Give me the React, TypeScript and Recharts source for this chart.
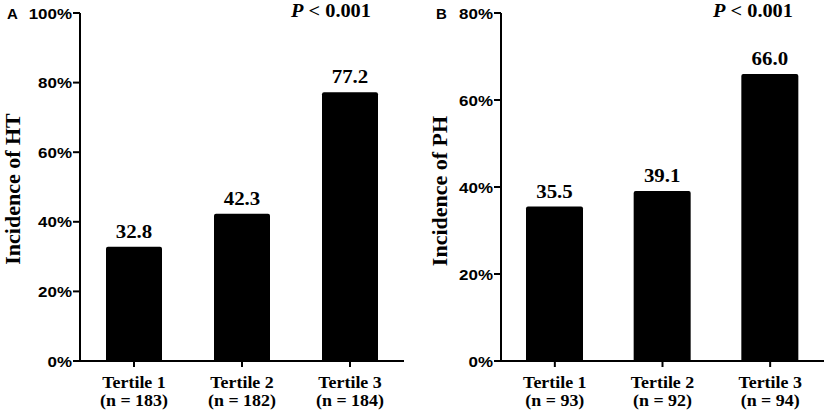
import React from "react";
import { BarChart, Bar, XAxis, YAxis, LabelList, Label } from "recharts";

const categories = ["Tertile 1", "Tertile 2", "Tertile 3"];

const htCounts = ["183", "182", "184"];
const htValues = [32.8, 42.3, 77.2];
const htTicks = [0, 20, 40, 60, 80, 100];

const phCounts = ["93", "92", "94"];
const phValues = [35.5, 39.1, 66.0];
const phTicks = [0, 20, 40, 60, 80];

const serifStyle = { fontFamily: "'Liberation Serif', 'Times New Roman', serif", fontWeight: 700 };
const sansStyle = { fontFamily: "'Liberation Sans', Arial, sans-serif", fontWeight: 700 };

const makeRows = (values: number[], counts: string[]) =>
  categories.map((name, i) => ({ name, value: values[i], n: counts[i] }));

const YTick = (props: any) => {
  const { x, y, payload } = props;
  return (
    <text
      transform={`translate(${x},${y + 5.5}) scale(1.13,1)`}
      textAnchor="end"
      style={sansStyle}
      fontSize={15}
      fill="#000"
    >
      {payload.value}%
    </text>
  );
};

const makeXTick = (counts: string[]) => (props: any) => {
  const { x, y, payload, index } = props;
  return (
    <g transform={`translate(${x},${y})`}>
      <text
        transform="translate(0,19) scale(1.12,1)"
        textAnchor="middle"
        style={serifStyle}
        fontSize={16}
        fill="#000"
      >
        {payload.value}
      </text>
      <text
        transform="translate(0,37) scale(1.12,1)"
        textAnchor="middle"
        style={serifStyle}
        fontSize={16}
        fill="#000"
      >
        (n = {counts[index]})
      </text>
    </g>
  );
};

const ValueLabel = (props: any) => {
  const { x, y, width, value } = props;
  return (
    <text
      transform={`translate(${x + width / 2},${y - 9}) scale(1.1,1)`}
      textAnchor="middle"
      style={serifStyle}
      fontSize={19}
      fill="#000"
    >
      {Number(value).toFixed(1)}
    </text>
  );
};

interface PanelProps {
  values: number[];
  counts: string[];
  ticks: number[];
  yTitle: string;
  width: number;
  axisWidth: number;
  rightMargin: number;
  barSize: number;
  titleX: number;
  titleY: number;
}

const Panel = (p: PanelProps) => {
  const rows = makeRows(p.values, p.counts);
  const XTick = makeXTick(p.counts);
  return (
    <BarChart
      width={p.width}
      height={414}
      data={rows}
      margin={{ top: 13, right: p.rightMargin, left: 0, bottom: 0 }}
    >
      <XAxis
        dataKey="name"
        height={53}
        axisLine={{ stroke: "#000", strokeWidth: 2 }}
        tickLine={{ stroke: "#000", strokeWidth: 2 }}
        tickSize={6}
        tickMargin={2}
        tick={<XTick />}
        interval={0}
      />
      <YAxis
        width={p.axisWidth}
        domain={[0, p.ticks[p.ticks.length - 1]]}
        ticks={p.ticks}
        axisLine={{ stroke: "#000", strokeWidth: 2 }}
        tickLine={{ stroke: "#000", strokeWidth: 2 }}
        tickSize={7}
        tickMargin={1}
        tick={<YTick />}
        interval={0}
      >
        <Label
          content={() => (
            <text
              transform={`translate(${p.titleX},${p.titleY}) rotate(-90)`}
              textAnchor="middle"
              style={serifStyle}
              fontSize={22}
              fill="#000"
            >
              {p.yTitle}
            </text>
          )}
        />
      </YAxis>
      <Bar
        dataKey="value"
        fill="#000"
        barSize={p.barSize}
        radius={[2, 2, 0, 0]}
        isAnimationActive={false}
      >
        <LabelList dataKey="value" content={<ValueLabel />} />
      </Bar>
    </BarChart>
  );
};

const PText = ({ x }: { x: number }) => (
  <text
    transform={`translate(${x},17) scale(1.13,1)`}
    textAnchor="middle"
    style={serifStyle}
    fontSize={18}
    fill="#000"
  >
    <tspan fontStyle="italic">P</tspan> &lt; 0.001
  </text>
);

export default function App() {
  return (
    <div
      style={{
        position: "absolute",
        left: 0,
        top: 0,
        width: 829,
        height: 414,
        background: "#fff",
      }}
    >
      <div style={{ position: "absolute", left: 0, top: 0 }}>
        <Panel
          values={htValues}
          counts={htCounts}
          ticks={htTicks}
          yTitle="Incidence of HT"
          width={420}
          axisWidth={80}
          rightMargin={16}
          barSize={56}
          titleX={20}
          titleY={189}
        />
      </div>
      <div style={{ position: "absolute", left: 420, top: 0 }}>
        <Panel
          values={phValues}
          counts={phCounts}
          ticks={phTicks}
          yTitle="Incidence of PH"
          width={409}
          axisWidth={81}
          rightMargin={5}
          barSize={57}
          titleX={27}
          titleY={191}
        />
      </div>
      <svg
        width={829}
        height={414}
        style={{ position: "absolute", left: 0, top: 0, pointerEvents: "none" }}
      >
        <text x={7} y={19} style={sansStyle} fontSize={15} fill="#000">
          A
        </text>
        <text x={436} y={19} style={sansStyle} fontSize={15} fill="#000">
          B
        </text>
        <PText x={331} />
        <PText x={753} />
      </svg>
    </div>
  );
}
